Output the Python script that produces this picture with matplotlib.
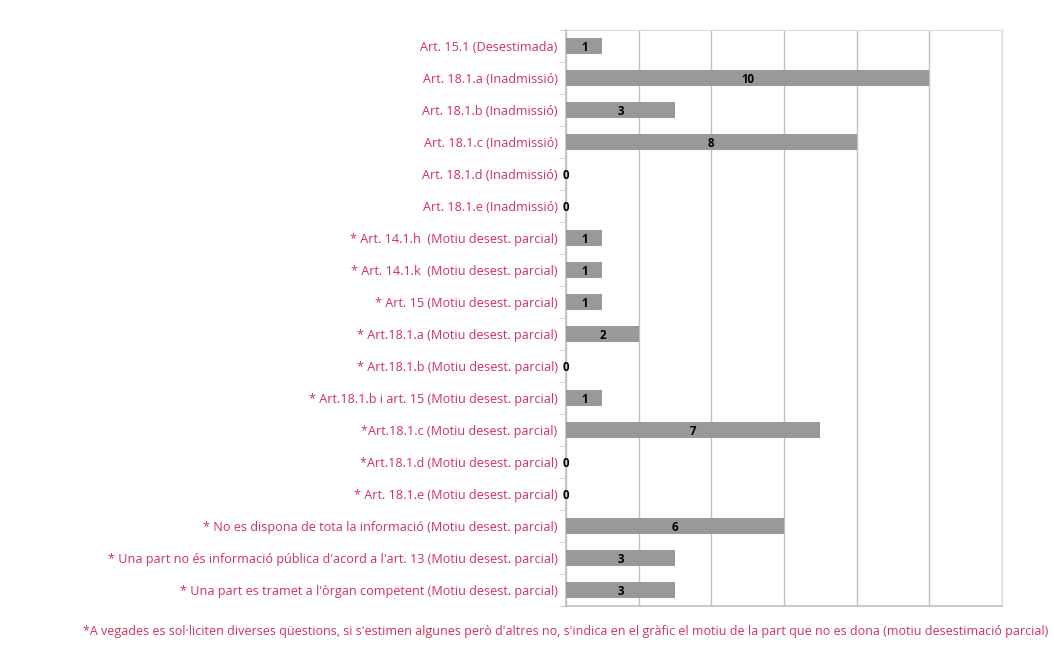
import matplotlib
matplotlib.use("Agg")
import matplotlib.pyplot as plt
import numpy as np

# dades
categories = [
    "Art. 15.1 (Desestimada)",
    "Art. 18.1.a (Inadmissió)",
    "Art. 18.1.b (Inadmissió)",
    "Art. 18.1.c (Inadmissió)",
    "Art. 18.1.d (Inadmissió)",
    "Art. 18.1.e (Inadmissió)",
    "* Art. 14.1.h  (Motiu desest. parcial)",
    "* Art. 14.1.k  (Motiu desest. parcial)",
    "* Art. 15 (Motiu desest. parcial)",
    "* Art.18.1.a (Motiu desest. parcial)",
    "* Art.18.1.b (Motiu desest. parcial)",
    "* Art.18.1.b i art. 15 (Motiu desest. parcial)",
    "*Art.18.1.c (Motiu desest. parcial)",
    "*Art.18.1.d (Motiu desest. parcial)",
    "* Art. 18.1.e (Motiu desest. parcial)",
    "* No es dispona de tota la informació (Motiu desest. parcial)",
    "* Una part no és informació pública d'acord a l'art. 13 (Motiu desest. parcial)",
    "* Una part es tramet a l'òrgan competent (Motiu desest. parcial)",
]
valors = [1, 10, 3, 8, 0, 0, 1, 1, 1, 2, 0, 1, 7, 0, 0, 6, 3, 3]
nota = ("*A vegades es sol·liciten diverses qüestions, si s'estimen algunes però d'altres no, "
        "s'indica en el gràfic el motiu de la part que no es dona (motiu desestimació parcial)")

vermell = "#D0325A"
gris_barra = "#999999"
gris_linia = "#C0C0C0"

plt.rcParams['font.family'] = ['Open Sans', 'DejaVu Sans']

fig = plt.figure(figsize=(10.54, 6.6), dpi=100)
ax = fig.add_axes([566/1054, 1-606/660, 436/1054, 576/660])

y = np.arange(len(categories))
ax.barh(y, valors, height=0.5, color=gris_barra, zorder=3)

# etiquetes de valor
for yi, v in zip(y, valors):
    ax.text(v/2, yi, str(v), ha="center", va="center_baseline",
            fontsize=8.3, fontweight="bold", color="black", zorder=4)

ax.set_xlim(0, 12)
ax.set_ylim(len(categories)-0.5, -0.5)
ax.set_xticks(np.arange(0, 13, 2))
ax.set_xticklabels([])
ax.tick_params(axis="x", length=0)
ax.grid(axis="x", color=gris_linia, linewidth=1, zorder=0)

ax.set_yticks(y)
ax.set_yticklabels(categories, color=vermell, fontsize=9.05)
ax.tick_params(axis="y", which="major", length=0, pad=6)
ax.set_yticks(np.arange(-0.5, len(categories), 1), minor=True)
ax.tick_params(axis="y", which="minor", length=4, color=gris_linia, direction="out")

for s in ["top", "right"]:
    ax.spines[s].set_color("#D9D9D9")
for s in ["left", "bottom"]:
    ax.spines[s].set_color(gris_linia)
    ax.spines[s].set_linewidth(1.2)

fig.text(1048/1054, 1-632/660, nota, ha="right", va="center", color=vermell, fontsize=9.0)

fig.savefig("out.png", dpi=100)
